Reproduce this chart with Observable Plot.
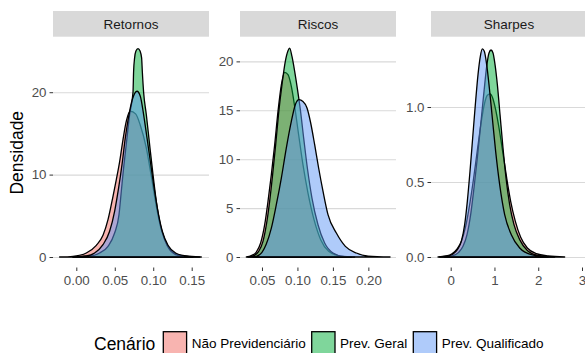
<!DOCTYPE html>
<html>
<head>
<meta charset="utf-8">
<script src="https://cdn.jsdelivr.net/npm/d3@7"></script>
<script src="https://cdn.jsdelivr.net/npm/@observablehq/plot@0.6"></script>
<style>
  html, body { margin: 0; padding: 0; background: #fff; overflow: hidden; }
  #chart { position: relative; width: 585px; height: 353px; overflow: hidden; font-family: "Liberation Sans", Arial, sans-serif; }
  #chart > div { position: absolute; }
  #chart svg { display: block; }
</style>
</head>
<body>
<div id="chart"></div>
<script>
// ---------- data ----------
const series = ["Não Previdenciário", "Prev. Geral", "Prev. Qualificado"];
const seriesFills = ["#f26a62", "#00ae38", "#5f98f6"];
const facetNames = ["Retornos", "Riscos", "Sharpes"];
const legendTitle = "Cenário";
const yAxisTitle = "Densidade";

// [value, density] pairs per facet and scenario
const retornosNaoPrev = [[-0.0217,0],[-0.0043,0.08],[0.013,0.49],[0.026,1.42],[0.0347,2.63],[0.0412,4.53],[0.0477,7.37],[0.052,9.39],[0.0563,11.54],[0.0607,14.25],[0.065,16.48],[0.0702,17.69],[0.0771,17.37],[0.0832,15.99],[0.091,13.24],[0.0975,9.8],[0.104,6.15],[0.1105,3.32],[0.1192,1.3],[0.13,0.36],[0.1473,0.04],[0.1625,0]];
const retornosPrevGeral = [[-0.0043,0],[0.0173,0.12],[0.0303,0.49],[0.0412,1.3],[0.0498,2.91],[0.0555,5.14],[0.0585,7.98],[0.0615,10.81],[0.0654,14.05],[0.0693,17.29],[0.0737,20.0],[0.0745,22.55],[0.0758,24.17],[0.0775,25.0],[0.0802,25.3],[0.0829,25.0],[0.0849,24.17],[0.0858,22.55],[0.0875,20.0],[0.091,17.29],[0.0953,13.64],[0.0997,10.0],[0.104,6.76],[0.1092,3.93],[0.1148,2.11],[0.1213,0.89],[0.1322,0.2],[0.1517,0]];
const retornosPrevQual = [[-0.0043,0],[0.013,0.12],[0.0238,0.49],[0.0347,1.5],[0.0433,3.12],[0.0498,5.55],[0.055,8.38],[0.0594,11.21],[0.0637,14.45],[0.0685,17.29],[0.0728,19.11],[0.0789,20.12],[0.0832,19.51],[0.0875,17.29],[0.0919,14.45],[0.0962,11.62],[0.1005,8.79],[0.1057,5.75],[0.1118,3.12],[0.1192,1.42],[0.1291,0.49],[0.143,0.12],[0.1603,0]];

const riscosNaoPrev = [[0.0279,0],[0.035,0.14],[0.042,0.51],[0.0481,1.43],[0.0538,3.3],[0.0585,5.69],[0.0632,8.42],[0.0679,11.48],[0.0726,14.89],[0.0773,17.61],[0.082,18.88],[0.0867,18.64],[0.0914,17.44],[0.0961,15.4],[0.1017,12.5],[0.1078,9.44],[0.1149,6.54],[0.1234,3.82],[0.1328,1.77],[0.144,0.58],[0.1572,0.14],[0.176,0]];
const riscosPrevGeral = [[0.0302,0],[0.0387,0.14],[0.0453,0.58],[0.0514,1.6],[0.0566,3.48],[0.0608,5.69],[0.065,8.42],[0.0693,11.48],[0.0735,14.72],[0.0782,17.61],[0.0829,20.0],[0.0867,21.09],[0.089,21.36],[0.0923,20.51],[0.0961,18.98],[0.0998,17.27],[0.1041,15.06],[0.1088,12.16],[0.114,9.1],[0.1205,6.03],[0.129,3.3],[0.1384,1.43],[0.1502,0.41],[0.1666,0.03],[0.1807,0]];
const riscosPrevQual = [[0.0373,0],[0.0444,0.14],[0.05,0.48],[0.0561,1.33],[0.0632,2.96],[0.0702,5.35],[0.0773,8.07],[0.0843,11.14],[0.0914,13.87],[0.097,15.57],[0.1022,16.08],[0.1078,15.91],[0.1135,15.23],[0.1187,13.7],[0.1243,11.48],[0.1299,9.1],[0.1361,6.71],[0.1431,4.33],[0.1549,2.45],[0.1676,1.09],[0.1831,0.41],[0.1995,0.1],[0.2306,0]];

const sharpesNaoPrev = [[-0.29,0],[-0.1,0.007],[0.03,0.022],[0.152,0.056],[0.258,0.116],[0.342,0.204],[0.433,0.349],[0.525,0.527],[0.616,0.727],[0.7,0.904],[0.776,1.027],[0.837,1.078],[0.898,1.087],[0.959,1.06],[1.027,0.982],[1.104,0.86],[1.187,0.704],[1.279,0.527],[1.37,0.371],[1.477,0.238],[1.599,0.131],[1.751,0.06],[1.957,0.022],[2.223,0.007],[2.604,0]];
const sharpesPrevGeral = [[-0.138,0],[0.053,0.009],[0.182,0.031],[0.281,0.071],[0.373,0.149],[0.456,0.282],[0.532,0.46],[0.608,0.66],[0.685,0.882],[0.761,1.104],[0.822,1.271],[0.875,1.36],[0.921,1.38],[0.967,1.36],[1.013,1.282],[1.066,1.149],[1.127,0.949],[1.195,0.727],[1.264,0.527],[1.347,0.349],[1.446,0.216],[1.576,0.116],[1.751,0.044],[1.995,0.011],[2.375,0]];
const sharpesPrevQual = [[-0.252,0],[-0.062,0.007],[0.053,0.02],[0.152,0.049],[0.243,0.104],[0.319,0.216],[0.38,0.371],[0.441,0.571],[0.502,0.793],[0.563,1.016],[0.624,1.216],[0.677,1.338],[0.723,1.387],[0.768,1.371],[0.822,1.282],[0.883,1.127],[0.951,0.927],[1.027,0.704],[1.119,0.482],[1.233,0.282],[1.385,0.149],[1.576,0.06],[1.842,0.016],[2.223,0]];

// tick values and labels
const retornosXTicks = [0, 0.05, 0.10, 0.15];
const retornosXLabels = ["0.00", "0.05", "0.10", "0.15"];
const retornosYTicks = [0, 10, 20];
const retornosYLabels = ["0", "10", "20"];
const riscosXTicks = [0.05, 0.10, 0.15, 0.20];
const riscosXLabels = ["0.05", "0.10", "0.15", "0.20"];
const riscosYTicks = [0, 5, 10, 15, 20];
const riscosYLabels = ["0", "5", "10", "15", "20"];
const sharpesXTicks = [0, 1, 2, 3];
const sharpesXLabels = ["0", "1", "2", "3"];
const sharpesYTicks = [0, 0.5, 1.0];
const sharpesYLabels = ["0.0", "0.5", "1.0"];

// ---------- layout ----------
const FONT = "Liberation Sans, Arial, sans-serif";
const PANEL_W = 156, PANEL_TOP = 38, PANEL_H = 229.5, MB = 32, MR = 14;

const panels = [
  { name: facetNames[0], data: [retornosNaoPrev, retornosPrevGeral, retornosPrevQual],
    xDomain: [-0.0303, 0.1725], yDomain: [-1.274, 26.58],
    xTicks: retornosXTicks, xLabels: retornosXLabels, yTicks: retornosYTicks, yLabels: retornosYLabels,
    left: 18, ml: 35 },
  { name: facetNames[1], data: [riscosNaoPrev, riscosPrevGeral, riscosPrevQual],
    xDomain: [0.019, 0.239], yDomain: [-1.073, 22.39],
    xTicks: riscosXTicks, xLabels: riscosXLabels, yTicks: riscosYTicks, yLabels: riscosYLabels,
    left: 210, ml: 30 },
  { name: facetNames[2], data: [sharpesNaoPrev, sharpesPrevGeral, sharpesPrevQual],
    xDomain: [-0.45, 3.114], yDomain: [-0.07, 1.46],
    xTicks: sharpesXTicks, xLabels: sharpesXLabels, yTicks: sharpesYTicks, yLabels: sharpesYLabels,
    left: 398, ml: 33 }
];

const chart = d3.select("#chart");

// decorations (strips, axis title, legend)
const deco = chart.append("div").style("left", "0px").style("top", "0px")
  .append("svg").attr("width", 585).attr("height", 353)
  .style("font-family", FONT);

panels.forEach(p => {
  const x0 = p.left + p.ml;
  deco.append("rect").attr("x", x0).attr("y", 11).attr("width", PANEL_W).attr("height", 25.7).attr("fill", "#d9d9d9");
  deco.append("text").attr("x", x0 + PANEL_W / 2).attr("y", 28.6).attr("text-anchor", "middle")
    .attr("font-size", 13.5).attr("fill", "#1a1a1a").text(p.name);
});

deco.append("text").attr("transform", `translate(23,${PANEL_TOP + PANEL_H / 2}) rotate(-90)`)
  .attr("text-anchor", "middle").attr("font-size", 17.5).attr("fill", "#000").text(yAxisTitle);

deco.append("text").attr("x", 94).attr("y", 350).attr("font-size", 17.5).attr("fill", "#000").text(legendTitle);
const keyX = [163.3, 311.7, 413.3];
series.forEach((s, k) => {
  deco.append("rect").attr("x", keyX[k]).attr("y", 331.7).attr("width", 23.3).attr("height", 23.3)
    .attr("fill", seriesFills[k]).attr("fill-opacity", 0.5).attr("stroke", "#000").attr("stroke-width", 1.3);
  deco.append("text").attr("x", keyX[k] + 28.4).attr("y", 348).attr("font-size", 13.5).attr("fill", "#000").text(s);
});

// panels drawn with Plot
panels.forEach(p => {
  const rows = [];
  series.forEach((s, k) => p.data[k].forEach(([x, y]) => rows.push({ series: s, x, y })));
  const svg = Plot.plot({
    width: p.ml + PANEL_W + MR,
    height: PANEL_H + MB,
    marginLeft: p.ml, marginRight: MR, marginTop: 0, marginBottom: MB,
    style: { background: "transparent", overflow: "visible", fontFamily: FONT, fontSize: "13.3px", maxWidth: "none" },
    x: { domain: p.xDomain },
    y: { domain: p.yDomain },
    color: { domain: series, range: seriesFills },
    marks: [
      Plot.gridY(p.yTicks, { stroke: "#d9d9d9", strokeOpacity: 1, strokeWidth: 1.1 }),
      Plot.areaY(rows, { x: "x", y1: 0, y2: "y", z: "series", fill: "series", fillOpacity: 0.5,
        stroke: "#000", strokeWidth: 1.3, curve: "monotone-x" }),
      Plot.axisX(p.xTicks, { tickFormat: d => p.xLabels[p.xTicks.indexOf(d)], tickSize: 3.5, tickPadding: 4,
        label: null, stroke: "#333", fill: "#4d4d4d" }),
      Plot.axisY(p.yTicks, { tickFormat: d => p.yLabels[p.yTicks.indexOf(d)], tickSize: 3.5, tickPadding: 3.5,
        label: null, stroke: "#333", fill: "#4d4d4d" })
    ]
  });
  chart.append("div").style("left", p.left + "px").style("top", PANEL_TOP + "px").node().appendChild(svg);
});
</script>
</body>
</html>
